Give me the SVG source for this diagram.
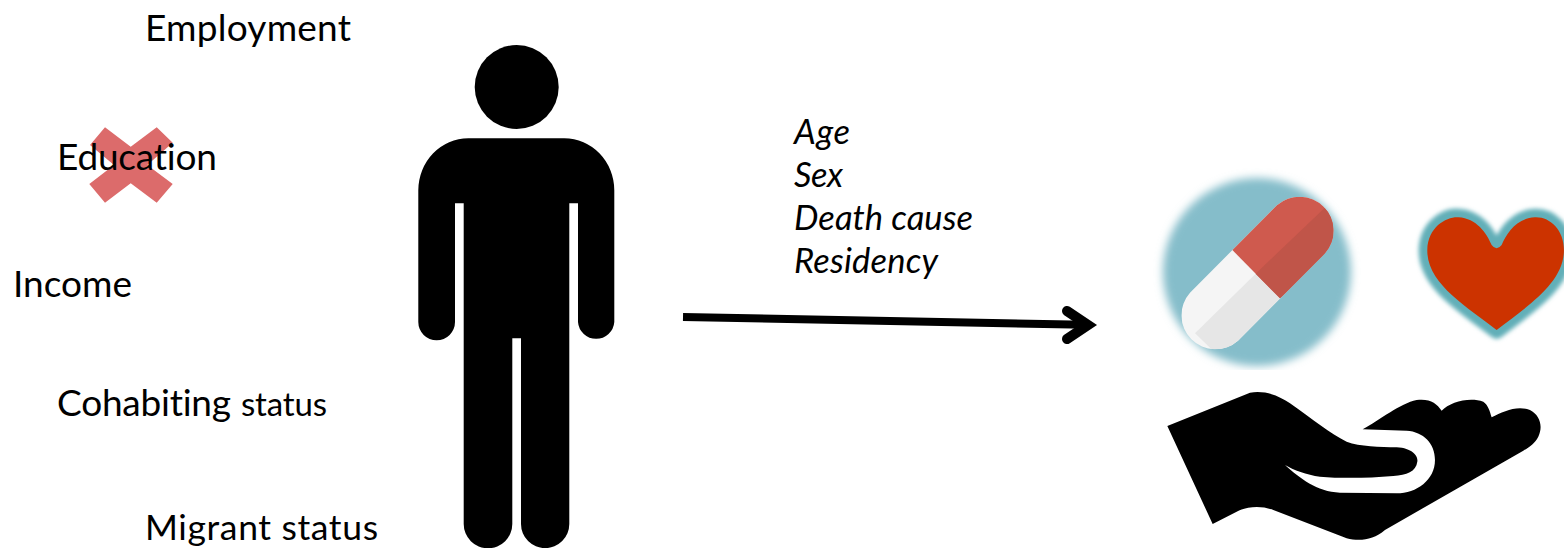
<svg xmlns="http://www.w3.org/2000/svg" width="1564" height="548" viewBox="0 0 1564 548">
<style>
text{font-family:"Lato","Liberation Sans",sans-serif;fill:#000;font-variant-ligatures:none}
.l{font-size:37px}
.i{font-size:34.500px;font-style:italic}
.c{fill:none;stroke:#000;stroke-linejoin:miter}
</style>
<defs>
<clipPath id="pc"><rect x="1140" y="165" width="424" height="205"/></clipPath>
<clipPath id="cap"><path d="M411,106L150,368A102,102 0 0 0 294,512L555,250A102,102 0 0 0 411,106Z"/></clipPath>
<filter id="soft" x="-20%" y="-20%" width="140%" height="140%"><feGaussianBlur stdDeviation="6"/></filter>
<filter id="fade" x="-20%" y="-20%" width="140%" height="140%"><feGaussianBlur stdDeviation="4"/></filter>
</defs>
<rect width="1564" height="548" fill="#fff"/>

<g id="cross"><polygon fill="#dc6b6b" points="105,127.300 130.700,146.700 156.700,127.300 172.700,142.700 147.300,165 172.700,184 156.700,202.700 130.700,183.300 105,202.700 89.300,184 114,165 90,145"/></g>

<g id="labels">
<text class="l" x="145" y="40.500" textLength="206">Employment</text>
<text class="l" x="57" y="169.500" textLength="160">Education</text>
<text class="l" x="13" y="297" textLength="119">Income</text>
<text class="l" x="57" y="416" textLength="174">Cohabiting</text>
<text x="241" y="416" font-size="33" textLength="86">status</text>
<text x="145" y="540" font-size="35.500" textLength="233">Migrant status</text>
</g>

<g id="attributes">
<text class="i" x="794" y="143.500" textLength="56">Age</text>
<text class="i" x="794" y="186.500" textLength="49">Sex</text>
<text class="i" x="794" y="229.500" textLength="179">Death cause</text>
<text class="i" x="794" y="272.500" textLength="144">Residency</text>
</g>

<g id="person">
<circle cx="516.700" cy="87" r="42"/>
<path d="M468.300,138.300H564.300A50,52 0 0 1 614.300,190.300V322A18.200,18.200 0 0 1 578,322V203.300H569.300V524A24,24 0 0 1 521,524V338.300H512.300V524A24.300,24.300 0 0 1 463.700,524V203.300H455V322A18.300,18.300 0 0 1 418.300,322V190.300A50,52 0 0 1 468.300,138.300Z"/>
</g>

<g id="connectors">
<path class="c" stroke-width="8" d="M683,317L1085,324.700"/>
<path class="c" stroke-width="10" stroke-linecap="round" d="M1067,311L1088,325L1067,339"/>
</g>

<g id="pill" clip-path="url(#pc)">
<circle cx="1257" cy="272" r="94" fill="#85bdca" filter="url(#fade)"/>
<g transform="translate(1140,170) scale(0.3333)">
<g clip-path="url(#cap)">
<rect x="100" y="60" width="520" height="500" fill="#f5f5f5"/>
<polygon points="347,311 165,490 300,620 520,400" fill="#e6e6e6"/>
<polygon points="275,238 440,60 620,60 620,240 420,385" fill="#cf5a4e"/>
<polygon points="347,311 560,108 700,250 420,385" fill="#c05549"/>
</g>
</g>
</g>

<g id="heart">
<g transform="translate(1140,170) scale(0.3333)">
<path filter="url(#soft)" fill="#62afb8" stroke="#62afb8" stroke-width="52" stroke-linejoin="round" d="M1070,480C980,410 860,340 862,240C864,170 920,140 955,142C1010,145 1040,190 1055,225Q1070,245 1085,225C1100,190 1130,145 1185,142C1230,140 1272,180 1272,240C1272,340 1160,410 1070,480Z"/>
<path fill="#cc3300" d="M1070,480C980,410 860,340 862,240C864,170 920,140 955,142C1010,145 1040,190 1055,225Q1070,245 1085,225C1100,190 1130,145 1185,142C1230,140 1272,180 1272,240C1272,340 1160,410 1070,480Z"/>
</g>
</g>

<g id="hand">
<path transform="translate(1140,170) scale(0.3333)" d="M82,768L330,668C380,660 420,680 450,700C520,750 570,790 620,815C660,830 720,830 770,832C820,835 835,860 832,875C828,905 800,915 760,918C680,925 600,925 540,920C500,915 460,900 435,885C480,925 530,965 600,968L770,970C830,970 885,930 885,870C885,820 850,785 800,782L668,778C720,750 780,700 830,690C870,685 890,700 905,722C930,695 990,680 1030,695C1045,705 1050,725 1055,742C1090,725 1130,705 1170,720C1200,735 1210,770 1195,800C1185,820 1170,830 1150,842L735,1080C700,1110 660,1115 620,1105L400,1020C360,1005 320,1010 290,1025L218,1062Z"/>
</g>
</svg>
